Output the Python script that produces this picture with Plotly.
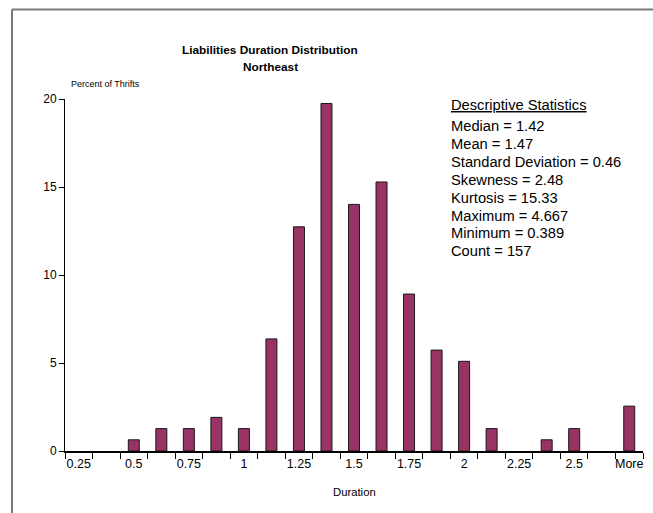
import plotly.graph_objects as go

# Duration buckets (upper bound of each bin) and share of thrifts in each
categories = ["0.25", "0.375", "0.5", "0.625", "0.75", "0.875", "1", "1.125",
              "1.25", "1.375", "1.5", "1.625", "1.75", "1.875", "2", "2.125",
              "2.25", "2.375", "2.5", "2.625", "More"]
counts = [0, 0, 1, 2, 2, 3, 2, 10, 20, 31, 22, 24, 14, 9, 8, 2, 0, 1, 2, 0, 4]
total = 157
percent = [c / total * 100 for c in counts]

# Only every other bucket gets a label on the axis
tick_labels = [c if i % 2 == 0 else "" for i, c in enumerate(categories)]

stats_title = "Descriptive Statistics"
stats_lines = [
    "Median = 1.42",
    "Mean = 1.47",
    "Standard Deviation = 0.46",
    "Skewness = 2.48",
    "Kurtosis = 15.33",
    "Maximum = 4.667",
    "Minimum = 0.389",
    "Count = 157",
]

FONT = "Liberation Sans, Arial, sans-serif"

fig = go.Figure()
fig.add_trace(go.Bar(
    x=categories,
    y=percent,
    marker=dict(color="#993366",
                line=dict(color="#1a1a1a", width=[1 if v > 0 else 0 for v in percent])),
    hoverinfo="x+y",
))

W, H = 653, 513
L, R, T, B = 65, 10, 99, 62
pw, ph = W - L - R, H - T - B


def px_to_paper_x(px):
    return (px - L) / pw


def px_to_paper_y(py):
    return (H - B - py) / ph


annotations = [
    dict(text="<b>Liabilities Duration Distribution</b>", x=px_to_paper_x(270),
         y=px_to_paper_y(50), xref="paper", yref="paper", showarrow=False,
         font=dict(size=11.8, family=FONT, color="black"), xanchor="center", yanchor="middle"),
    dict(text="<b>Northeast</b>", x=px_to_paper_x(270), y=px_to_paper_y(67),
         xref="paper", yref="paper", showarrow=False,
         font=dict(size=11.8, family=FONT, color="black"), xanchor="center", yanchor="middle"),
    dict(text="Percent of Thrifts", x=px_to_paper_x(69), y=px_to_paper_y(84),
         xref="paper", yref="paper", showarrow=False,
         font=dict(size=9, family=FONT, color="black"), xanchor="left", yanchor="middle"),
    dict(text="Duration", x=px_to_paper_x(354), y=px_to_paper_y(492),
         xref="paper", yref="paper", showarrow=False,
         font=dict(size=11.3, family=FONT, color="black"), xanchor="center", yanchor="middle"),
    dict(text="<u>" + stats_title + "</u>", x=px_to_paper_x(449), y=px_to_paper_y(105),
         xref="paper", yref="paper", showarrow=False,
         font=dict(size=14.7, family=FONT, color="black"), xanchor="left", yanchor="middle"),
]
for i, line in enumerate(stats_lines):
    annotations.append(dict(
        text=line, x=px_to_paper_x(449), y=px_to_paper_y(126 + i * 17.9),
        xref="paper", yref="paper", showarrow=False,
        font=dict(size=14.7, family=FONT, color="black"), xanchor="left", yanchor="middle"))

# Outer chart-area frame (left and top edges visible)
bx = px_to_paper_x(12)
by_top = px_to_paper_y(9.5)
by_bot = px_to_paper_y(520)
bx_right = px_to_paper_x(660)
shapes = [
    dict(type="line", xref="paper", yref="paper", x0=bx, x1=bx, y0=by_bot, y1=by_top,
         line=dict(color="#7a7a7a", width=2)),
    dict(type="line", xref="paper", yref="paper", x0=bx, x1=bx_right, y0=by_top, y1=by_top,
         line=dict(color="#7a7a7a", width=2)),
]

fig.update_layout(
    width=W, height=H,
    margin=dict(l=L, r=R, t=T, b=B),
    paper_bgcolor="white", plot_bgcolor="white",
    showlegend=False,
    bargap=0.6,
    font=dict(family=FONT, size=11, color="black"),
    annotations=annotations,
    shapes=shapes,
    xaxis=dict(
        type="category",
        categoryorder="array", categoryarray=categories,
        tickmode="array", tickvals=categories, ticktext=tick_labels,
        tickson="boundaries", tickangle=0,
        ticks="outside", ticklen=6, tickwidth=1, tickcolor="black",
        showline=True, linecolor="black", linewidth=2,
        showgrid=False, zeroline=False,
        tickfont=dict(size=12.5, family=FONT),
        range=[-0.5, len(categories) - 0.5],
    ),
    yaxis=dict(
        range=[0, 20], tickvals=[0, 5, 10, 15, 20],
        ticks="outside", ticklen=5, tickwidth=1, tickcolor="black",
        showline=True, linecolor="black", linewidth=1,
        showgrid=False, zeroline=False,
        tickfont=dict(size=12, family=FONT),
    ),
)

fig.write_html("out.html")
